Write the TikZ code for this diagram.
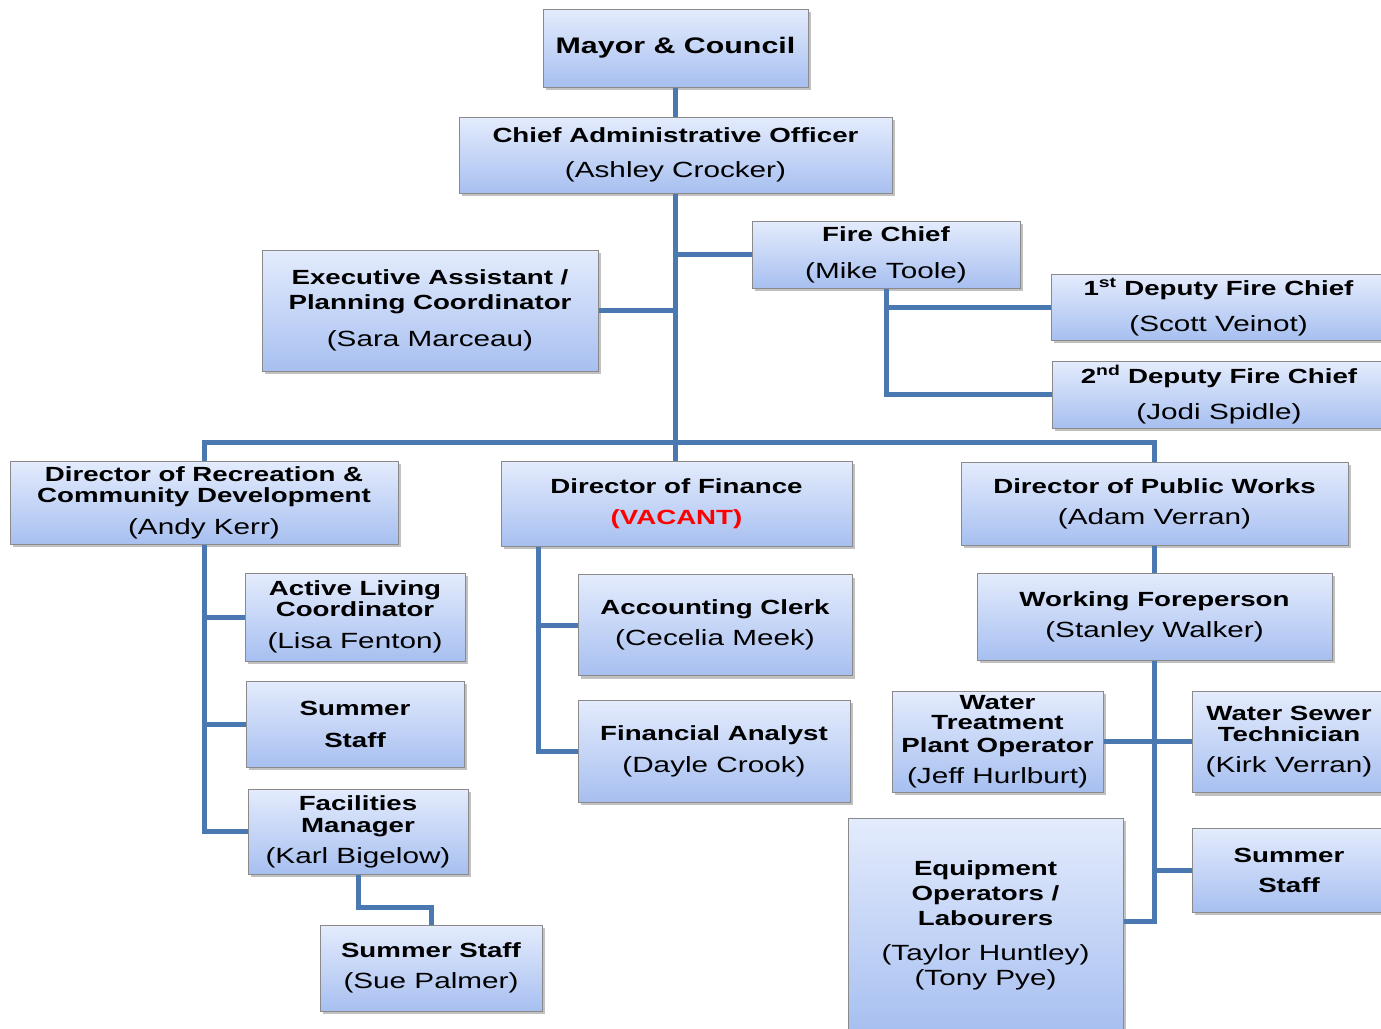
\documentclass[tikz,border=0pt]{standalone}
\usepackage{fontspec}
\setmainfont{Liberation Sans}[FakeStretch=1.35]
\usetikzlibrary{shadows}
\definecolor{linkblue}{HTML}{4A78B0}
\definecolor{boxtop}{HTML}{E4ECFD}
\definecolor{boxbot}{HTML}{A7BFF0}
\definecolor{boxline}{HTML}{8A8A8A}
\newcommand\ttl[1]{{\bfseries\fontsize{20.5}{24}\selectfont #1}}
\tikzset{
  orgbox/.style={draw=boxline,line width=1pt,top color=boxtop,bottom color=boxbot,
    align=center,inner sep=0pt,
    drop shadow={shadow xshift=3pt,shadow yshift=-3pt,opacity=0.35,fill=black!70}},
  link/.style={draw=linkblue,line width=5pt}
}
\begin{document}
\begin{tikzpicture}[x=1pt,y=-1pt,font=\fontsize{22}{24}\selectfont]
                \useasboundingbox (0,0) rectangle (1381,1028);
                % top of the chart
                \node[orgbox,minimum width=265,minimum height=78] (mayor) at (675.5,48) {{\bfseries\fontsize{22.5}{24}\selectfont Mayor \& Council}};
                \node[orgbox,minimum width=433,minimum height=76] (cao) at (675.5,155) {\ttl{Chief Administrative Officer}\\[11pt](Ashley Crocker)};
                \node[orgbox,minimum width=268,minimum height=67] (fire) at (886,254.5) {\ttl{Fire Chief}\\[13pt](Mike Toole)};
                \node[orgbox,minimum width=336,minimum height=121] (exec) at (430,310.5) {\ttl{Executive Assistant /}\\[1pt]\ttl{Planning Coordinator}\\[13pt](Sara Marceau)};
                \node[orgbox,minimum width=335,minimum height=66] (dep1) at (1218.5,307) {\ttl{1\textsuperscript{st} Deputy Fire Chief}\\[12pt](Scott Veinot)};
                \node[orgbox,minimum width=334,minimum height=67] (dep2) at (1219,394.5) {\ttl{2\textsuperscript{nd} Deputy Fire Chief}\\[12pt](Jodi Spidle)};
                % directors
                \node[orgbox,minimum width=388,minimum height=83] (rec) at (204,502.5) {\ttl{Director of Recreation \&}\\[-3pt]\ttl{Community Development}\\[8pt](Andy Kerr)};
                \node[orgbox,minimum width=351,minimum height=85] (fin) at (676.5,503.5) {\ttl{Director of Finance}\\[7pt]\ttl{\color{red}(VACANT)}};
                \node[orgbox,minimum width=387,minimum height=83] (pw) at (1154.5,503.5) {\ttl{Director of Public Works}\\[7pt](Adam Verran)};
                % recreation
                \node[orgbox,minimum width=220,minimum height=88] (active) at (355,617) {\ttl{Active Living}\\[-3pt]\ttl{Coordinator}\\[8pt](Lisa Fenton)};
                \node[orgbox,minimum width=218,minimum height=86] (sumrec) at (355,724) {\ttl{Summer}\\[8pt]\ttl{Staff}};
                \node[orgbox,minimum width=220,minimum height=85] (facil) at (358,831.5) {\ttl{Facilities}\\[-2pt]\ttl{Manager}\\[7pt](Karl Bigelow)};
                \node[orgbox,minimum width=222,minimum height=86] (sue) at (431,968) {\ttl{Summer Staff}\\[7pt](Sue Palmer)};
                % finance
                \node[orgbox,minimum width=274,minimum height=101] (acct) at (715,625) {\ttl{Accounting Clerk}\\[7pt](Cecelia Meek)};
                \node[orgbox,minimum width=272,minimum height=102] (analyst) at (714,751) {\ttl{Financial Analyst}\\[8pt](Dayle Crook)};
                % public works
                \node[orgbox,minimum width=355,minimum height=87] (wfore) at (1154.5,616.5) {\ttl{Working Foreperson}\\[7pt](Stanley Walker)};
                \node[orgbox,minimum width=211,minimum height=101] (wtp) at (997.5,741.5) {\ttl{Water}\\[-4pt]\ttl{Treatment}\\[-1pt]\ttl{Plant Operator}\\[7pt](Jeff Hurlburt)};
                \node[orgbox,minimum width=194,minimum height=101] (wst) at (1289,742) {\ttl{Water Sewer}\\[-3pt]\ttl{Technician}\\[7pt](Kirk Verran)};
                \node[orgbox,minimum width=275,minimum height=214] (equip) at (985.5,925) {\ttl{Equipment}\\[1pt]\ttl{Operators /}\\[1pt]\ttl{Labourers}\\[11pt](Taylor Huntley)\\[1pt](Tony Pye)};
                \node[orgbox,minimum width=194,minimum height=84] (sumpw) at (1289,870) {\ttl{Summer}\\[6pt]\ttl{Staff}};
                % reporting lines
                \coordinate (bus) at (676,442);
                \draw[link] (mayor) -- (cao);
                \draw[link] (cao.south) -- (cao.south |- fin.north);
                \draw[link] (rec.north) |- (bus) -| (pw.north);
                \draw[link] (fire.west) -- (fire.west -| cao.south);
                \draw[link] (exec.east) -- (exec.east -| cao.south);
                \draw[link] (fire.south) |- (dep2.west);
                \draw[link] (fire.south |- dep1.west) -- (dep1.west);
                \draw[link] (rec.south) |- (facil.west);
                \draw[link] (rec.south |- active.west) -- (active.west);
                \draw[link] (rec.south |- sumrec.west) -- (sumrec.west);
                \draw[link] (facil.south) -- ++(0,33) -| (sue.north);
                \draw[link] ([xshift=38pt]fin.south west) |- (analyst.west);
                \draw[link] ([xshift=38pt]fin.south west |- acct.west) -- (acct.west);
                \draw[link] (pw.south) -- (wfore.north);
                \draw[link] (wfore.south) |- ([yshift=4pt]equip.east);
                \draw[link] (wtp.east) -- (wtp.east -| wst.west);
                \draw[link] (wfore.south |- sumpw.west) -- (sumpw.west);
            \end{tikzpicture}
\end{document}
